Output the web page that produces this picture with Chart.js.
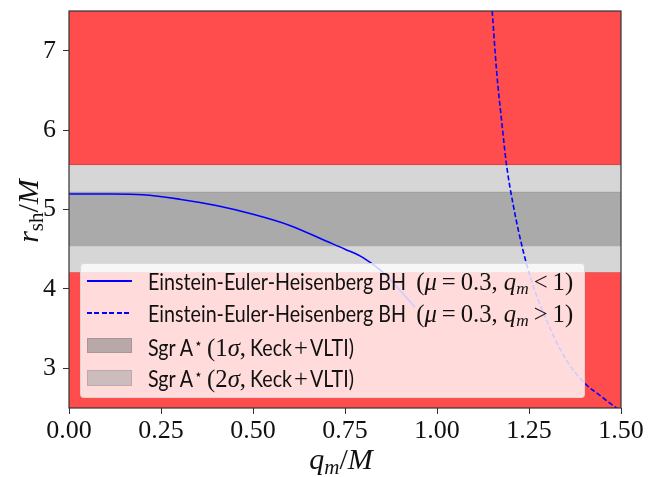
<!DOCTYPE html>
<html><head><meta charset="utf-8">
<script src="https://cdn.jsdelivr.net/npm/chart.js@4.4.1/dist/chart.umd.min.js"></script>
<style>
body{margin:0;background:#fff;}
#wrap{position:relative;width:657px;height:477px;overflow:hidden;}
canvas{position:absolute;left:0;top:0;}
.serif{font-family:"Liberation Serif","DejaVu Serif",serif;}
.sans{font-family:Lato,"DejaVu Sans",sans-serif;}
#legend{position:absolute;left:80px;top:263px;width:505px;height:135px;box-sizing:border-box;
 background:rgba(255,255,255,0.8);border:1px solid rgba(210,210,210,0.8);border-radius:4px;}
#legend .sans{font-size:23px;}
#legend .serif{font-size:24px;}
.row{position:absolute;left:0;width:100%;height:32px;line-height:32px;white-space:nowrap;color:#111;}
.handle{position:absolute;left:6px;width:45px;}
.txt{position:absolute;left:67px;top:0;white-space:nowrap;}
.rel{margin:0 0.2em;}
.bin{margin:0 0.08em;}
.m1,.m2{margin-left:0.25em;}
.sub{font-size:0.7em;position:relative;top:0.22em;line-height:0;}
#legend .sup{font-size:14px;position:relative;top:-0.6em;line-height:0;margin-left:1px;}
#xtitle{position:absolute;left:271px;top:441px;width:140px;height:36px;line-height:36px;text-align:center;font-size:30px;color:#111;}
#ytitle{position:absolute;left:-42px;top:193px;width:140px;height:36px;line-height:36px;text-align:center;font-size:30px;color:#111;transform:rotate(-90deg);}
</style></head><body>
<div id="wrap">
<canvas id="c" width="657" height="477"></canvas>
<div id="legend">
 <div class="row" style="top:1px"><div class="handle" style="top:15px;height:1.6px;background:#0000ff;"></div>
  <span class="txt"><span class="sans">Einstein-Euler-Heisenberg BH</span> <span class="serif m1">(<i>μ</i><span class="rel">=</span>0.3, <i>q<span class="sub">m</span></i><span class="rel">&lt;</span>1)</span></span></div>
 <div class="row" style="top:33px"><div class="handle" style="top:15px;height:1.6px;background:repeating-linear-gradient(to right,#0000ff 0 5px,transparent 5px 7.5px);"></div>
  <span class="txt"><span class="sans">Einstein-Euler-Heisenberg BH</span> <span class="serif m2">(<i>μ</i><span class="rel">=</span>0.3, <i>q<span class="sub">m</span></i><span class="rel">&gt;</span>1)</span></span></div>
 <div class="row" style="top:67px"><div class="handle" style="top:7px;height:15px;background:#b8a8aa;box-shadow:inset 0 0 0 1px rgba(150,130,132,0.5);"></div>
  <span class="txt"><span class="sans">Sgr A</span><span class="sup serif">⋆</span> <span class="serif">(1<i>σ</i>,</span> <span class="sans">Keck</span><span class="serif bin">+</span><span class="sans">VLTI)</span></span></div>
 <div class="row" style="top:98px"><div class="handle" style="top:8px;height:16px;background:#cdbcbe;box-shadow:inset 0 0 0 1px rgba(170,150,152,0.5);"></div>
  <span class="txt"><span class="sans">Sgr A</span><span class="sup serif">⋆</span> <span class="serif">(2<i>σ</i>,</span> <span class="sans">Keck</span><span class="serif bin">+</span><span class="sans">VLTI)</span></span></div>
</div>
<div id="xtitle" class="serif"><i>q<span class="sub">m</span></i>/<i>M</i></div>
<div id="ytitle" class="serif"><i>r</i><span class="sub">sh</span>/<i>M</i></div>
</div>
<script>
// ---- data ----
const qSolid = [0, 0.1, 0.2, 0.3, 0.4, 0.5, 0.6, 0.7, 0.75, 0.8, 0.85, 0.9, 0.94];
const rSolid = [5.196, 5.195, 5.185, 5.13, 5.05, 4.94, 4.80, 4.60, 4.50, 4.39, 4.22, 3.98, 3.77];
const qDashed = [1.150, 1.162, 1.176, 1.189, 1.207, 1.234, 1.257, 1.298, 1.352, 1.402, 1.445, 1.479, 1.49];
const rDashed = [7.5, 6.74, 6.10, 5.56, 5.06, 4.48, 4.10, 3.60, 3.10, 2.81, 2.65, 2.53, 2.49];
const sigma1 = [4.54, 5.22];   // 1σ band (lower, upper)
const sigma2 = [4.21, 5.56];   // 2σ band (lower, upper)
const xRange = [0, 1.5];
const yRange = [2.5, 7.5];
const xTicks = [0, 0.25, 0.5, 0.75, 1.0, 1.25, 1.5];
const xTickLabels = ['0.00', '0.25', '0.50', '0.75', '1.00', '1.25', '1.50'];
const yTicks = [3, 4, 5, 6, 7];
const yTickLabels = ['3', '4', '5', '6', '7'];

// legend: size the math part and narrow the sans part to the reference widths
const m1 = document.querySelector('.m1');
const mSize = 24 * 157 / m1.getBoundingClientRect().width;
document.querySelectorAll('#legend .serif:not(.sup)').forEach(e => e.style.fontSize = mSize + 'px');
const sansEls = [...document.querySelectorAll('#legend .sans')];
const widths = sansEls.map(e => e.getBoundingClientRect().width);
const k = 258 / widths[0];
sansEls.forEach((e, i) => {
  e.style.display = 'inline-block';
  e.style.width = (widths[i] * k) + 'px';
  e.style.transformOrigin = '0 50%';
  e.style.transform = 'scaleX(' + k + ')';
});

const pts = (xs, ys) => xs.map((x, i) => ({x: x, y: ys[i]}));
const flat = (v) => [{x: xRange[0], y: v}, {x: xRange[1], y: v}];

const frame = {
  id: 'frame',
  afterDatasetsDraw(chart) {
    const a = chart.chartArea, ctx = chart.ctx;
    ctx.save();
    ctx.strokeStyle = '#333';
    ctx.lineWidth = 1.2;
    ctx.strokeRect(a.left, a.top, a.right - a.left, a.bottom - a.top);
    ctx.restore();
  }
};

new Chart(document.getElementById('c'), {
  type: 'line',
  data: {
    datasets: [
      {data: pts(qSolid, rSolid), borderColor: '#0000ff', borderWidth: 1.6, fill: false, cubicInterpolationMode: 'monotone', order: 0},
      {data: pts(qDashed, rDashed), borderColor: '#0000ff', borderWidth: 1.6, borderDash: [5, 2.5], fill: false, cubicInterpolationMode: 'monotone', order: 0},
      {data: flat(sigma1[1]), borderColor: 'rgba(0,0,0,0.1)', borderWidth: 1, backgroundColor: '#aaaaaa', fill: '+1', order: 1},
      {data: flat(sigma1[0]), borderColor: 'rgba(0,0,0,0.1)', borderWidth: 1, fill: false, order: 1},
      {data: flat(sigma2[1]), borderColor: 'rgba(0,0,0,0.06)', borderWidth: 1, backgroundColor: '#d6d6d6', fill: '+1', order: 2},
      {data: flat(sigma2[0]), borderColor: 'rgba(0,0,0,0.06)', borderWidth: 1, fill: false, order: 2},
      {data: flat(sigma2[1]), borderColor: 'rgba(220,40,40,0.8)', borderWidth: 1, backgroundColor: 'rgba(255,0,0,0.7)', fill: 'end', order: 3},
      {data: flat(sigma2[0]), borderColor: 'rgba(220,40,40,0.8)', borderWidth: 1, backgroundColor: 'rgba(255,0,0,0.7)', fill: 'start', order: 3}
    ]
  },
  options: {
    responsive: false,
    animation: false,
    elements: {point: {radius: 0, hoverRadius: 0}},
    layout: {padding: {left: 0, right: 36, top: 11, bottom: 0}},
    plugins: {legend: {display: false}, tooltip: {enabled: false}},
    scales: {
      x: {
        type: 'linear', min: xRange[0], max: xRange[1],
        afterBuildTicks: s => { s.ticks = xTicks.map(v => ({value: v})); },
        afterFit: s => { s.height = 69; s.paddingLeft = 0; s.paddingRight = 0; },
        ticks: {callback: (v, i) => xTickLabels[i], font: {family: 'Liberation Serif', size: 26}, color: '#111', padding: 2, maxRotation: 0, autoSkip: false},
        grid: {display: true, drawOnChartArea: false, drawTicks: true, tickLength: 6, color: '#333'},
        border: {display: false}
      },
      y: {
        type: 'linear', min: yRange[0], max: yRange[1],
        afterBuildTicks: s => { s.ticks = yTicks.map(v => ({value: v})); },
        afterFit: s => { s.width = 69; s.paddingTop = 0; s.paddingBottom = 0; },
        ticks: {callback: (v, i) => yTickLabels[i], font: {family: 'Liberation Serif', size: 26}, color: '#111', padding: 7, autoSkip: false},
        grid: {display: true, drawOnChartArea: false, drawTicks: true, tickLength: 6, color: '#333'},
        border: {display: false}
      }
    }
  },
  plugins: [frame]
});
</script>
</body></html>
